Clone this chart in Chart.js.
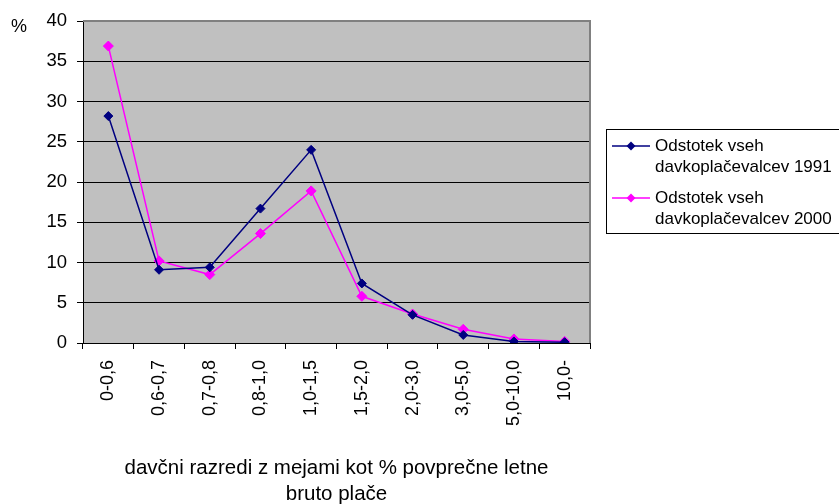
<!DOCTYPE html>
<html>
<head>
<meta charset="utf-8">
<script src="https://cdn.jsdelivr.net/npm/chart.js@4/dist/chart.umd.min.js"></script>
<style>
  html, body { margin: 0; padding: 0; background: #fff; }
  canvas { display: block; }
</style>
</head>
<body>
<canvas id="c" width="839" height="504"></canvas>
<script>
// Tax brackets (limits as % of average annual gross wage)
const categories = ['0-0,6', '0,6-0,7', '0,7-0,8', '0,8-1,0', '1,0-1,5', '1,5-2,0', '2,0-3,0', '3,0-5,0', '5,0-10,0', '10,0-'];
// Share of all taxpayers, %
const share1991 = [28.2, 9.1, 9.4, 16.7, 24.0, 7.4, 3.5, 1.0, 0.2, 0.1];
const share2000 = [36.9, 10.2, 8.5, 13.6, 18.9, 5.8, 3.6, 1.7, 0.5, 0.2];
const seriesNames = [
  ['Odstotek vseh', 'davkoplačevalcev 1991'],
  ['Odstotek vseh', 'davkoplačevalcev 2000']
];
const xTitle = ['davčni razredi z mejami kot % povprečne letne', 'bruto plače'];
const yUnit = '%';

const FONT = '"Liberation Sans", Arial, sans-serif';
const NAVY = '#000080';
const MAGENTA = '#FF00FF';

// Grey plot background, grey top/right frame
const plotBackground = {
  id: 'plotBackground',
  beforeDraw(chart) {
    const { ctx, chartArea: a } = chart;
    ctx.save();
    ctx.fillStyle = '#C0C0C0';
    ctx.fillRect(a.left, a.top, a.right - a.left, a.bottom - a.top);
    ctx.restore();
  },
  beforeDatasetsDraw(chart) {
    const { ctx, chartArea: a } = chart;
    ctx.save();
    ctx.strokeStyle = '#808080';
    ctx.lineWidth = 2;
    ctx.beginPath();
    ctx.moveTo(a.left, a.top);
    ctx.lineTo(a.right, a.top);
    ctx.lineTo(a.right, a.bottom);
    ctx.stroke();
    ctx.restore();
  }
};

// Unit label and boxed two-line legend
const annotations = {
  id: 'annotations',
  afterDraw(chart) {
    const { ctx } = chart;
    ctx.save();
    ctx.fillStyle = '#000';
    ctx.font = '18px ' + FONT;
    ctx.textBaseline = 'middle';
    ctx.textAlign = 'left';
    ctx.fillText(yUnit, 11, 27);

    // legend frame
    ctx.strokeStyle = '#000';
    ctx.lineWidth = 1;
    ctx.strokeRect(606.5, 129.5, 260, 104);

    const entries = chart.data.datasets;
    const rowY = [146, 198];
    entries.forEach((ds, i) => {
      const y = rowY[i];
      ctx.strokeStyle = ds.borderColor;
      ctx.lineWidth = 1.5;
      ctx.beginPath();
      ctx.moveTo(612, y);
      ctx.lineTo(650, y);
      ctx.stroke();
      // diamond marker
      const r = 4.5;
      ctx.fillStyle = ds.pointBackgroundColor;
      ctx.beginPath();
      ctx.moveTo(631, y - r);
      ctx.lineTo(631 + r, y);
      ctx.lineTo(631, y + r);
      ctx.lineTo(631 - r, y);
      ctx.closePath();
      ctx.fill();
      ctx.fillStyle = '#000';
      ctx.font = '17px ' + FONT;
      ctx.textAlign = 'left';
      ctx.textBaseline = 'middle';
      seriesNames[i].forEach((line, k) => ctx.fillText(line, 655, y + k * 21));
    });
    ctx.restore();
  }
};

new Chart(document.getElementById('c'), {
  type: 'line',
  data: {
    labels: categories,
    datasets: [
      {
        label: seriesNames[0].join(' '),
        data: share1991,
        borderColor: NAVY,
        backgroundColor: NAVY,
        pointBackgroundColor: NAVY,
        pointBorderColor: NAVY,
        borderWidth: 1.5,
        pointStyle: 'rectRot',
        pointRadius: 4.5,
        pointBorderWidth: 1,
        tension: 0
      },
      {
        label: seriesNames[1].join(' '),
        data: share2000,
        borderColor: MAGENTA,
        backgroundColor: MAGENTA,
        pointBackgroundColor: MAGENTA,
        pointBorderColor: MAGENTA,
        borderWidth: 1.5,
        pointStyle: 'rectRot',
        pointRadius: 5,
        pointBorderWidth: 1,
        tension: 0
      }
    ]
  },
  options: {
    responsive: false,
    animation: false,
    devicePixelRatio: 1,
    layout: { padding: { left: 0, top: 20, right: 249, bottom: 0 } },
    plugins: {
      legend: { display: false },
      tooltip: { enabled: false }
    },
    scales: {
      x: {
        offset: true,
        afterFit(scale) { scale.height = 161; },
        grid: {
          offset: true,
          drawOnChartArea: false,
          drawTicks: true,
          tickLength: 6,
          tickColor: '#000',
          color: '#000'
        },
        border: { display: true, color: '#000', width: 1 },
        ticks: {
          color: '#000',
          font: { family: FONT, size: 18 },
          maxRotation: 90,
          minRotation: 90,
          autoSkip: false,
          padding: 11
        },
        title: {
          display: true,
          text: xTitle,
          color: '#000',
          font: { family: FONT, size: 20.5, lineHeight: 1.27 },
          padding: { top: 0, bottom: -3 }
        }
      },
      y: {
        min: 0,
        max: 40,
        afterFit(scale) { scale.width = 83; },
        grid: {
          color: (c) => (c.tick && c.tick.value === 40 ? '#808080' : '#000'),
          lineWidth: 1,
          drawTicks: true,
          tickLength: 6,
          tickColor: '#000'
        },
        border: { display: true, color: '#000', width: 1 },
        ticks: {
          stepSize: 5,
          color: '#000',
          font: { family: FONT, size: 18.5 },
          padding: 10
        }
      }
    }
  },
  plugins: [plotBackground, annotations]
});
</script>
</body>
</html>
